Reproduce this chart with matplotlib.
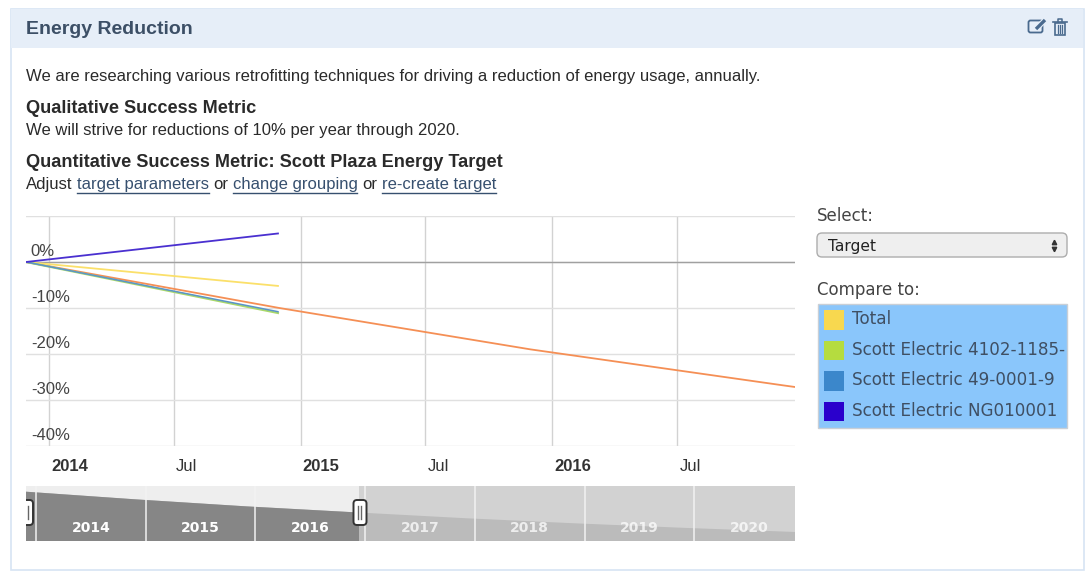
import numpy as np
import pandas as pd
import matplotlib
matplotlib.use("Agg")
from matplotlib import pyplot as plt
from matplotlib.patches import Rectangle, FancyBboxPatch
from matplotlib.transforms import ScaledTranslation

W, H = 1092, 581

# chart data
targetDates = pd.to_datetime(["2013-11-28", "2014-12-01", "2015-12-01", "2016-12-01",
                              "2017-12-01", "2018-12-01", "2019-12-01", "2020-12-01"])
targetValues = [0, -10, -19, -26.8, -34.4, -41, -46.9, -52.2]

actualDates = pd.to_datetime(["2013-11-28", "2014-11-29"])
seriesNames = ["Total", "Scott Electric 4102-1185-", "Scott Electric 49-0001-9", "Scott Electric NG010001"]
seriesValues = [[0, -5.2], [0, -11.1], [0, -10.8], [0, 6.2]]
seriesColors = ["#f8d84f", "#b5dc3f", "#3b87cb", "#2a00cc"]
lineColors = ["#fbe06a", "#a9d86a", "#5a94c8", "#4a30d0"]
lineWidths = [1.3, 1.5, 1.1, 1.3]

yTicks = [10, 0, -10, -20, -30, -40]
yLabels = ["", "0%", "-10%", "-20%", "-30%", "-40%"]
xTicks = pd.to_datetime(["2014-01-01", "2014-07-01", "2015-01-01", "2015-07-01", "2016-01-01", "2016-07-01"])
xLabels = ["2014", "Jul", "2015", "Jul", "2016", "Jul"]

navYears = [2014, 2015, 2016, 2017, 2018, 2019, 2020]


def PxAxes(fig, left, top, right, bottom, **kwargs):
    """ Axes placed by pixel edges, y counted from the top of the picture """
    return fig.add_axes([left/W, 1-bottom/H, (right-left)/W, (bottom-top)/H], **kwargs)


def Panel(bg):
    """ Box, header and all the text around the chart """
    bg.add_patch(Rectangle((10.5, 8.5), 1073, 561, fc="white", ec="#d7e4f3", lw=1.2))
    bg.add_patch(Rectangle((11, 9), 1072, 39, fc="#e6eef8", ec="none"))

    sans = "Liberation Sans"
    dark = "#2a2a2a"
    body = 12.0
    head = 13.1
    bg.text(26, 29.5, "Energy Reduction", family=sans, weight="bold", size=14.0, color="#3c4f66", va="center")
    bg.text(26, 76.5, "We are researching various retrofitting techniques for driving a reduction of energy usage, annually.",
            family=sans, size=body, color=dark, va="center")
    bg.text(26, 108.7, "Qualitative Success Metric", family=sans, weight="bold", size=head, color=dark, va="center")
    bg.text(26, 130.7, "We will strive for reductions of 10% per year through 2020.", family=sans, size=body, color=dark, va="center")
    bg.text(26, 162.7, "Quantitative Success Metric: Scott Plaza Energy Target", family=sans, weight="bold", size=head, color=dark, va="center")
    bg.text(26, 184.7, "Adjust", family=sans, size=body, color=dark, va="center")
    bg.text(213, 184.7, "or", family=sans, size=body, color=dark, va="center")
    bg.text(362, 184.7, "or", family=sans, size=body, color=dark, va="center")
    for x0, x1, txt in [(77, 209, "target parameters"), (233, 357, "change grouping"), (382, 496, "re-create target")]:
        bg.text(x0, 184.7, txt, family=sans, size=body, color="#37506f", va="center")
        bg.plot([x0, x1], [192.5, 192.5], color="#37506f", lw=1)

    # right hand controls
    ui = "DejaVu Sans"
    bg.text(817, 216, "Select:", family=ui, size=12.0, color="#444444", va="center")
    bg.add_patch(FancyBboxPatch((820, 236), 244, 18, boxstyle="round,pad=3,rounding_size=5", fc="#efefef", ec="#adadad", lw=1))
    bg.text(828, 246, "Target", family=ui, size=11.2, color="#222222", va="center")
    bg.plot([1054], [241.5], marker="^", ms=3.2, color="#333333")
    bg.plot([1054], [248.5], marker="v", ms=3.2, color="#333333")
    bg.text(817, 290, "Compare to:", family=ui, size=12.0, color="#444444", va="center")

    listBox = Rectangle((817.5, 304), 249.5, 124, fc="#8ac6fb", ec="#c9cfd6", lw=1)
    bg.add_patch(listBox)
    for i, (name, col) in enumerate(zip(seriesNames, seriesColors)):
        y = 310 + i*30.6
        bg.add_patch(Rectangle((824, y), 19.5, 19.5, fc=col, ec="none"))
        t = bg.text(852, y+9, name, family=ui, size=12.1, color="#3f4f63", va="center")
        t.set_clip_on(True)
        t.set_clip_path(listBox)

    # edit and delete icons
    ic = "#4a6a8e"
    bg.add_patch(FancyBboxPatch((1029, 21), 13, 11, boxstyle="round,pad=0.5,rounding_size=2", fc="none", ec=ic, lw=1.3))
    bg.plot([1036, 1045], [29, 20], color="#e6eef8", lw=4, solid_capstyle="butt")
    bg.plot([1036, 1045], [29, 20], color=ic, lw=2.4, solid_capstyle="butt")
    bg.add_patch(Rectangle((1055, 23), 10, 11.5, fc="none", ec=ic, lw=1.2))
    bg.plot([1053, 1067], [22, 22], color=ic, lw=1.2)
    bg.plot([1058, 1058, 1062, 1062], [22, 19, 19, 22], color=ic, lw=1.1)
    for x in [1058, 1060, 1062]:
        bg.plot([x, x], [25, 33], color=ic, lw=0.9)


def MainChart(ax):
    """ Target line with the meters compared to it """
    ax.set_xlim(pd.Timestamp("2013-11-28"), pd.Timestamp("2016-12-19"))
    ax.set_ylim(-40, 10)
    for s in ax.spines.values():
        s.set_visible(False)

    ax.set_yticks(yTicks)
    ax.set_yticklabels(yLabels, family="Liberation Sans", size=12, color="#444444")
    ax.set_xticks(xTicks)
    ax.set_xticklabels(xLabels, family="Liberation Sans", size=12, color="#333333")
    ax.tick_params(axis="both", length=0)
    ax.tick_params(axis="y", pad=-3.5)
    ax.tick_params(axis="x", pad=9.5)

    fig = ax.figure
    yOffset = ScaledTranslation(0, 2.4/72, fig.dpi_scale_trans)
    for lab in ax.get_yticklabels():
        lab.set_ha("left")
        lab.set_va("bottom")
        lab.set_transform(lab.get_transform() + yOffset)
    xOffset = ScaledTranslation(1.5/72, 0, fig.dpi_scale_trans)
    for lab, txt in zip(ax.get_xticklabels(), xLabels):
        lab.set_ha("left")
        lab.set_transform(lab.get_transform() + xOffset)
        if txt != "Jul":
            lab.set_weight("bold")

    ax.grid(axis="y", color="#e0e0e0", lw=1)
    ax.grid(axis="x", color="#d2d2d2", lw=1)
    ax.set_axisbelow(True)
    ax.axhline(0, color="#a0a0a0", lw=1, zorder=1)

    ax.plot(targetDates, targetValues, color="#f58f55", lw=1.3, zorder=2)
    for vals, col, lw in zip(seriesValues, lineColors, lineWidths):
        ax.plot(actualDates, vals, color=col, lw=lw, zorder=3)


def Navigator(nav, selEnd):
    """ Range selector strip below the chart """
    nav.set_xlim(pd.Timestamp("2013-11-28"), pd.Timestamp("2020-12-01"))
    nav.set_ylim(-63.9, 7.4)
    nav.set_xticks([])
    nav.set_yticks([])
    nav.set_facecolor("#d2d2d2")
    for s in nav.spines.values():
        s.set_visible(False)

    nav.axvspan(targetDates[0], selEnd, fc="#eeeeee", ec="none", zorder=1)
    nav.fill_between(targetDates, targetValues, -63.9, fc="#bbbbbb", ec="none", zorder=2)
    dark = nav.fill_between(targetDates, targetValues, -63.9, fc="#868686", ec="none", zorder=3)
    clip = Rectangle((matplotlib.dates.date2num(targetDates[0]), -63.9),
                     matplotlib.dates.date2num(selEnd)-matplotlib.dates.date2num(targetDates[0]), 71.3,
                     transform=nav.transData)
    dark.set_clip_path(clip)

    for yr in navYears:
        start = pd.Timestamp(year=yr, month=1, day=1)
        nav.axvline(start, color="#f2f2f2", lw=1.1, zorder=4)
        alpha = 1.0 if start < selEnd else 0.75
        nav.text(start + pd.Timedelta(days=182), -47.5, str(yr), family="DejaVu Sans", weight="bold", size=10,
                 color="white", alpha=alpha, ha="center", va="center", zorder=5)


def Handles(ov):
    """ Grab handles at both ends of the selected range """
    clip = Rectangle((26, 480), 769, 70, transform=ov.transData)
    for x in [20, 353.5]:
        p = FancyBboxPatch((x+1.5, 501.5), 10, 22, boxstyle="round,pad=1.5,rounding_size=3.5",
                           fc="white", ec="#333333", lw=1.4)
        ov.add_patch(p)
        p.set_clip_path(clip)
        for dx in [4.5, 7.5]:
            if x + dx > 26:
                ov.plot([x+dx, x+dx], [506, 519], color="#666666", lw=1)


def Main():
    fig = plt.figure(figsize=(W/100, H/100), dpi=100, facecolor="white")

    bg = PxAxes(fig, 0, 0, W, H)
    bg.set_xlim(0, W)
    bg.set_ylim(H, 0)
    bg.axis("off")
    Panel(bg)

    ax = PxAxes(fig, 26, 216, 795, 446)
    ax.patch.set_alpha(0)
    MainChart(ax)

    nav = PxAxes(fig, 26, 486, 795, 541)
    Navigator(nav, pd.Timestamp("2016-12-10"))

    ov = PxAxes(fig, 0, 0, W, H)
    ov.set_xlim(0, W)
    ov.set_ylim(H, 0)
    ov.axis("off")
    ov.patch.set_alpha(0)
    Handles(ov)

    fig.savefig("out.png", dpi=100)


if __name__ == "__main__":
    Main()
